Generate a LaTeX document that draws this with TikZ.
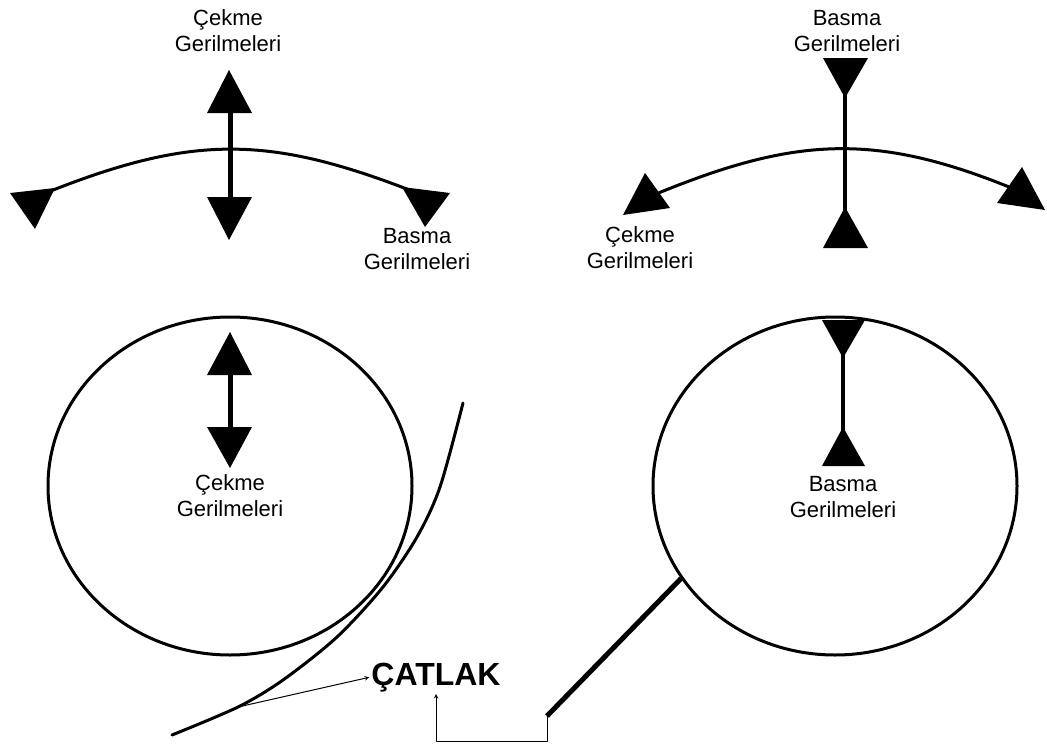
\documentclass[tikz,border=0pt]{standalone}
\usepackage{fontspec}
\setmainfont{Liberation Sans}
\usetikzlibrary{shapes.geometric}
\tikzset{
  lbl/.style={font=\fontsize{22}{26}\selectfont, align=center, inner sep=0pt},
  head/.style={fill=black},
  ring/.style={draw, ellipse, line width=3pt, inner sep=0pt, minimum width=364pt, minimum height=338pt}
}
\begin{document}
\begin{tikzpicture}[x=1pt, y=-1pt, line join=round, >=stealth]
 \useasboundingbox (0,0) rectangle (1047,744);
 % ust sol: bukulen cubuk
 \draw[line width=3pt] (48,192) .. controls (192,135) and (268,135) .. (412,191);
 \fill[head] (10,193)--(55,188)--(35,229)--cycle;
 \fill[head] (402,187)--(450,193)--(425,227)--cycle;
 \draw[line width=5pt] (230,110)--(230,200);
 \fill[head] (229,70)--(207,113)--(252,113)--cycle;
 \fill[head] (229,240)--(207,197)--(252,197)--cycle;
 \node[lbl] (cekmeTL) at (228,31) {Çekme\\Gerilmeleri};
 \node[lbl] (basmaTL) at (417,249) {Basma\\Gerilmeleri};
 % ust sag
 \draw[line width=3pt] (656,194) .. controls (795,137) and (875,132) .. (1014,189);
 \fill[head] (645,173)--(623,215)--(670,208)--cycle;
 \fill[head] (1022,167)--(997,203)--(1045,210)--cycle;
 \draw[line width=4pt] (845,60)--(845,246);
 \fill[head] (823,58)--(868,58)--(845,98)--cycle;
 \fill[head] (823,248)--(868,248)--(845,207)--cycle;
 \node[lbl] (basmaTR) at (847,31) {Basma\\Gerilmeleri};
 \node[lbl] (cekmeTR) at (640,248) {Çekme\\Gerilmeleri};
 % alt sol: disk ve catlak
 \node[ring] (solC) at (230,486) {};
 \draw[line width=5pt] (230,372)--(230,430);
 \fill[head] (230,332)--(207,375)--(252,375)--cycle;
 \fill[head] (230,468)--(207,427)--(252,427)--cycle;
 \node[lbl] (cekmeC) at (230,496) {Çekme\\Gerilmeleri};
 \draw[line width=3pt, line cap=round] plot[smooth] coordinates
   {(463,403) (440,487) (417,537) (383,587) (337,637) (283,680) (238,707) (172,735)};
 \coordinate (ck) at (238,707);
 \node[anchor=south, inner sep=2pt, font=\fontsize{32}{34}\selectfont\bfseries] (catlak) at (436,694) {ÇATLAK};
 \draw[->, line width=1pt] (ck) -- (catlak.west);
 % alt sag
 \node[ring] (sagC) at (835,486) {};
 \draw[line width=4pt] (843,322)--(843,464);
 \fill[head] (822,320)--(865,320)--(843,358)--cycle;
 \fill[head] (822,466)--(865,466)--(843,427)--cycle;
 \node[lbl] (basmaC) at (843,497) {Basma\\Gerilmeleri};
 \coordinate (crE) at (547,716);
 \draw[line width=5pt] (sagC.211) -- (crE);
 \draw[->, line width=1pt] (crE) -- ++(0,25) -| (catlak.south);
\end{tikzpicture}
\end{document}
